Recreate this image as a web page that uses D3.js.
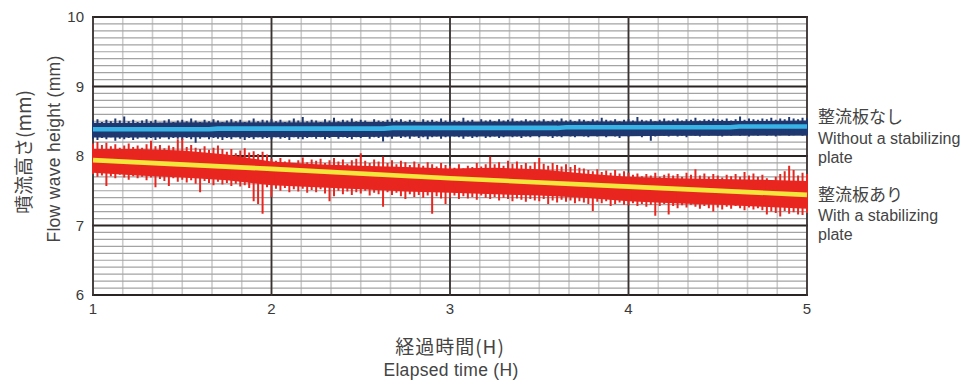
<!DOCTYPE html>
<html>
<head>
<meta charset="utf-8">
<script src="https://cdn.jsdelivr.net/npm/d3@7/dist/d3.min.js"></script>
<style>
  body { margin: 0; background: #fff; }
  svg { display: block; }
</style>
</head>
<body>
<svg id="chart" width="973" height="381"></svg>
<script>
// axis ticks
const hourTicks = [1, 2, 3, 4, 5];
const heightTicks = [6, 7, 8, 9, 10];

// noisy traces, sampled every 0.025 h starting at 1 h (max / min per sample)
const sampleStart = 1, sampleStep = 0.025;

const blueHi = [
  8.51, 8.53, 8.49, 8.52, 8.50, 8.54, 8.51, 8.57, 8.50, 8.52,
  8.49, 8.51, 8.53, 8.50, 8.52, 8.48, 8.51, 8.53, 8.49, 8.51,
  8.52, 8.50, 8.54, 8.51, 8.49, 8.52, 8.50, 8.53, 8.51, 8.49,
  8.51, 8.53, 8.50, 8.52, 8.49, 8.51, 8.54, 8.50, 8.52, 8.51,
  8.53, 8.50, 8.52, 8.49, 8.51, 8.54, 8.51, 8.56, 8.50, 8.52,
  8.51, 8.49, 8.53, 8.51, 8.55, 8.50, 8.52, 8.51, 8.54, 8.50,
  8.52, 8.51, 8.49, 8.53, 8.51, 8.50, 8.52, 8.54, 8.51, 8.53,
  8.50, 8.52, 8.51, 8.49, 8.53, 8.51, 8.52, 8.50, 8.54, 8.51,
  8.53, 8.51, 8.50, 8.55, 8.51, 8.52, 8.49, 8.53, 8.51, 8.52,
  8.50, 8.53, 8.51, 8.52, 8.54, 8.50, 8.51, 8.53, 8.51, 8.52,
  8.51, 8.53, 8.50, 8.52, 8.51, 8.54, 8.51, 8.52, 8.50, 8.53,
  8.52, 8.50, 8.53, 8.51, 8.55, 8.52, 8.51, 8.53, 8.50, 8.52,
  8.53, 8.51, 8.56, 8.52, 8.51, 8.53, 8.50, 8.52, 8.54, 8.51,
  8.52, 8.54, 8.51, 8.53, 8.52, 8.55, 8.51, 8.53, 8.52, 8.54,
  8.53, 8.52, 8.54, 8.51, 8.53, 8.57, 8.52, 8.54, 8.53, 8.52,
  8.54, 8.53, 8.55, 8.52, 8.54, 8.53, 8.56, 8.54, 8.53, 8.55,
  8.54
];
const blueLo = [
  8.25, 8.23, 8.26, 8.24, 8.27, 8.22, 8.25, 8.24, 8.26, 8.23,
  8.25, 8.27, 8.24, 8.26, 8.23, 8.25, 8.27, 8.24, 8.26, 8.25,
  8.23, 8.26, 8.24, 8.19, 8.25, 8.27, 8.24, 8.26, 8.25, 8.23,
  8.26, 8.24, 8.27, 8.25, 8.23, 8.26, 8.24, 8.27, 8.25, 8.26,
  8.24, 8.27, 8.25, 8.26, 8.23, 8.27, 8.25, 8.24, 8.26, 8.27,
  8.25, 8.27, 8.24, 8.26, 8.28, 8.25, 8.27, 8.26, 8.24, 8.27,
  8.26, 8.28, 8.25, 8.27, 8.26, 8.21, 8.27, 8.25, 8.28, 8.26,
  8.27, 8.25, 8.28, 8.26, 8.27, 8.24, 8.27, 8.28, 8.25, 8.27,
  8.26, 8.28, 8.27, 8.25, 8.28, 8.26, 8.27, 8.29, 8.26, 8.27,
  8.28, 8.26, 8.27, 8.29, 8.27, 8.28, 8.26, 8.28, 8.27, 8.29,
  8.27, 8.29, 8.28, 8.26, 8.28, 8.27, 8.29, 8.28, 8.27, 8.29,
  8.28, 8.27, 8.29, 8.28, 8.30, 8.27, 8.29, 8.28, 8.26, 8.29,
  8.28, 8.30, 8.29, 8.27, 8.29, 8.22, 8.28, 8.30, 8.29, 8.28,
  8.30, 8.28, 8.29, 8.27, 8.30, 8.29, 8.28, 8.30, 8.29, 8.31,
  8.29, 8.28, 8.30, 8.29, 8.31, 8.29, 8.30, 8.28, 8.30, 8.29,
  8.31, 8.29, 8.30, 8.28, 8.30, 8.31, 8.29, 8.30, 8.31, 8.29,
  8.30
];
const redHi = [
  8.18, 8.20, 8.16, 8.19, 8.14, 8.17, 8.12, 8.15, 8.18, 8.13,
  8.15, 8.12, 8.17, 8.22, 8.14, 8.16, 8.11, 8.15, 8.13, 8.24,
  8.25, 8.13, 8.16, 8.12, 8.10, 8.14, 8.09, 8.12, 8.15, 8.10,
  8.06, 8.10, 8.04, 8.08, 8.11, 8.05, 8.07, 8.03, 8.06, 8.02,
  7.96, 7.93, 7.97, 7.92, 7.95, 7.90, 7.94, 7.98, 7.91, 7.95,
  7.93, 7.96, 7.90, 7.94, 7.97, 7.92, 7.95, 7.89, 7.94, 7.96,
  8.04, 7.93, 7.90, 7.95, 7.92, 7.99, 7.90, 7.94, 7.88, 7.93,
  7.91, 7.87, 7.92, 7.89, 7.86, 7.91, 7.88, 7.85, 7.90, 7.87,
  7.86, 7.83, 7.88, 7.82, 7.86, 7.84, 7.90, 7.85, 7.88, 7.99,
  7.88, 7.91, 7.86, 7.93, 7.89, 7.92, 7.87, 7.90, 7.86, 7.91,
  7.97, 7.89, 7.86, 7.90, 7.87, 7.85, 7.88, 7.84, 7.87, 7.83,
  7.82, 7.80, 7.78, 7.81, 7.77, 7.79, 7.76, 7.80, 7.75, 7.78,
  7.76, 7.73, 7.75, 7.71, 7.74, 7.72, 7.76, 7.70, 7.73, 7.75,
  7.72, 7.74, 7.70, 7.76, 7.73, 7.81, 7.72, 7.75, 7.70, 7.74,
  7.72, 7.69, 7.73, 7.71, 7.74, 7.70, 7.77, 7.72, 7.75, 7.70,
  7.73, 7.68, 7.65, 7.70, 7.74, 7.78, 7.86, 7.80, 7.72, 7.76,
  7.74
];
const redLo = [
  7.74, 7.70, 7.72, 7.57, 7.71, 7.68, 7.73, 7.69, 7.66, 7.71,
  7.68, 7.70, 7.65, 7.69, 7.55, 7.67, 7.64, 7.57, 7.68, 7.63,
  7.66, 7.62, 7.65, 7.60, 7.48, 7.64, 7.61, 7.58, 7.63, 7.59,
  7.61, 7.57, 7.60, 7.56, 7.58, 7.54, 7.35, 7.31, 7.17, 7.55,
  7.41, 7.53, 7.50, 7.54, 7.48, 7.52, 7.49, 7.53, 7.47, 7.51,
  7.48, 7.52, 7.46, 7.35, 7.42, 7.50, 7.45, 7.49, 7.44, 7.48,
  7.46, 7.50, 7.43, 7.47, 7.45, 7.27, 7.48, 7.44, 7.47, 7.42,
  7.38, 7.45, 7.41, 7.44, 7.40, 7.43, 7.17, 7.42, 7.39, 7.31,
  7.40, 7.43, 7.38, 7.42, 7.39, 7.41, 7.37, 7.43, 7.40, 7.38,
  7.41, 7.36, 7.40, 7.38, 7.35, 7.39, 7.37, 7.34, 7.38, 7.36,
  7.35, 7.38, 7.31, 7.36, 7.33, 7.37, 7.34, 7.36, 7.32, 7.35,
  7.33, 7.31, 7.21, 7.34, 7.32, 7.35, 7.28, 7.31, 7.33, 7.30,
  7.29, 7.32, 7.28, 7.31, 7.27, 7.30, 7.14, 7.28, 7.31, 7.16,
  7.28, 7.25, 7.29, 7.26, 7.30, 7.27, 7.24, 7.28, 7.25, 7.20,
  7.26, 7.23, 7.27, 7.24, 7.28, 7.25, 7.22, 7.26, 7.23, 7.25,
  7.22, 7.16, 7.20, 7.18, 7.13, 7.21, 7.17, 7.19, 7.16, 7.15,
  7.18
];

// dense core of each trace, read every quarter hour
const coreHours = [1, 1.25, 1.5, 1.75, 2, 2.25, 2.5, 2.75, 3, 3.25, 3.5, 3.75, 4, 4.25, 4.5, 4.75, 5];
const blueCoreTop = [8.48, 8.48, 8.485, 8.485, 8.485, 8.485, 8.49, 8.49, 8.49, 8.495, 8.495, 8.495, 8.495, 8.5, 8.505, 8.505, 8.51];
const blueCoreBottom = [8.265, 8.265, 8.27, 8.27, 8.27, 8.275, 8.275, 8.28, 8.28, 8.28, 8.285, 8.285, 8.285, 8.29, 8.29, 8.295, 8.295];
const redCoreTop = [8.10, 8.10, 8.08, 8.02, 7.92, 7.88, 7.86, 7.84, 7.82, 7.83, 7.81, 7.75, 7.70, 7.68, 7.67, 7.66, 7.64];
const redCoreBottom = [7.76, 7.72, 7.69, 7.65, 7.58, 7.55, 7.52, 7.49, 7.47, 7.45, 7.43, 7.40, 7.35, 7.32, 7.30, 7.27, 7.24];

// averaged lines
const blueAvgHours = [1, 1.65, 1.7, 2.63, 2.68, 3.6, 3.65, 4.57, 4.62, 5];
const blueAvg = [8.384, 8.384, 8.394, 8.394, 8.404, 8.404, 8.414, 8.414, 8.425, 8.425];
const redAvgHours = [1, 2, 3, 4, 5];
const redAvg = [7.94, 7.815, 7.68, 7.56, 7.44];

const svg = d3.select("#chart");
const plotLeft = 93, plotRight = 807, plotTop = 17, plotBottom = 295;

const x = d3.scaleLinear().domain([1, 5]).range([plotLeft, plotRight]);
const y = d3.scaleLinear().domain([6, 10]).range([plotBottom, plotTop]);

const textColor = "#3a3a3a";
const latin = "'Liberation Sans', Arial, Helvetica, sans-serif";
const cjk = "'Noto Sans CJK JP', 'Noto Sans', sans-serif";

// grid
const grid = svg.append("g");
grid.selectAll("line.vmin")
  .data(d3.range(1, 5.0001, 1 / 6))
  .enter().append("line")
  .attr("x1", d => x(d)).attr("x2", d => x(d))
  .attr("y1", plotTop).attr("y2", plotBottom)
  .attr("stroke", "#cccccc").attr("stroke-width", 1.6);
grid.selectAll("line.hmin")
  .data(d3.range(6, 10.0001, 0.1))
  .enter().append("line")
  .attr("x1", plotLeft).attr("x2", plotRight)
  .attr("y1", d => y(d)).attr("y2", d => y(d))
  .attr("stroke", "#a3a3a3").attr("stroke-width", 1.2);
grid.selectAll("line.hmaj")
  .data(heightTicks)
  .enter().append("line")
  .attr("x1", plotLeft - 1).attr("x2", plotRight + 1)
  .attr("y1", d => y(d)).attr("y2", d => y(d))
  .attr("stroke", "#2b2424").attr("stroke-width", 1.8);
grid.selectAll("line.vmaj")
  .data(hourTicks)
  .enter().append("line")
  .attr("x1", d => x(d)).attr("x2", d => x(d))
  .attr("y1", plotTop - 1).attr("y2", plotBottom + 1)
  .attr("stroke", "#3a3232").attr("stroke-width", 1.8);

// traces: one vertical stroke per sample from min to max
function spikes(hi, lo) {
  const p = d3.path();
  hi.forEach((v, i) => {
    const px = x(sampleStart + i * sampleStep);
    p.moveTo(px, y(v));
    p.lineTo(px, y(lo[i]));
  });
  return p.toString();
}
const coreArea = d3.area()
  .x((d, i) => x(coreHours[i]))
  .y0(d => y(d[1]))
  .y1(d => y(d[0]));
const avgLine = d3.line().x(d => x(d[0])).y(d => y(d[1]));

function drawTrace(hi, lo, coreTop, coreBottom, avgHours, avg, color, avgColor) {
  const g = svg.append("g");
  g.append("path")
    .datum(coreTop.map((v, i) => [v, coreBottom[i]]))
    .attr("d", coreArea)
    .attr("fill", color);
  g.append("path")
    .attr("d", spikes(hi, lo))
    .attr("fill", "none")
    .attr("stroke", color)
    .attr("stroke-width", 2);
  g.append("path")
    .datum(avgHours.map((h, i) => [h, avg[i]]))
    .attr("d", avgLine)
    .attr("fill", "none")
    .attr("stroke", avgColor)
    .attr("stroke-width", 4.6);
}
drawTrace(blueHi, blueLo, blueCoreTop, blueCoreBottom, blueAvgHours, blueAvg, "#1f3870", "#37b3e5");
drawTrace(redHi, redLo, redCoreTop, redCoreBottom, redAvgHours, redAvg, "#e8261f", "#f4e63a");

// tick labels
svg.append("g").selectAll("text")
  .data(heightTicks)
  .enter().append("text")
  .attr("x", 84).attr("y", d => y(d))
  .attr("dy", "0.36em")
  .attr("text-anchor", "end")
  .attr("font-family", latin).attr("font-size", 15)
  .attr("fill", textColor)
  .text(d => d);
svg.append("g").selectAll("text")
  .data(hourTicks)
  .enter().append("text")
  .attr("x", d => x(d)).attr("y", 314)
  .attr("text-anchor", "middle")
  .attr("font-family", latin).attr("font-size", 15)
  .attr("fill", textColor)
  .text(d => d);

// axis titles
svg.append("text")
  .attr("transform", "translate(31,152) rotate(-90)")
  .attr("text-anchor", "middle")
  .attr("font-family", cjk).attr("font-size", 19)
  .attr("fill", "#444")
  .text("噴流高さ(mm)");
svg.append("text")
  .attr("transform", "translate(60,149) rotate(-90)")
  .attr("text-anchor", "middle")
  .attr("font-family", latin).attr("font-size", 17.5)
  .attr("letter-spacing", 0.3)
  .attr("fill", "#444")
  .text("Flow wave height (mm)");
svg.append("text")
  .attr("x", 450).attr("y", 354)
  .attr("text-anchor", "middle")
  .attr("font-family", cjk).attr("font-size", 19)
  .attr("letter-spacing", 1)
  .attr("fill", "#444")
  .text("経過時間(H)");
svg.append("text")
  .attr("x", 451).attr("y", 376)
  .attr("text-anchor", "middle")
  .attr("font-family", latin).attr("font-size", 17.5)
  .attr("letter-spacing", 0.3)
  .attr("fill", "#444")
  .text("Elapsed time (H)");

// series labels
const legendRows = [
  { text: "整流板なし", y: 123, cjk: true },
  { text: "Without a stabilizing", y: 144, cjk: false },
  { text: "plate", y: 163, cjk: false },
  { text: "整流板あり", y: 201, cjk: true },
  { text: "With a stabilizing", y: 221, cjk: false },
  { text: "plate", y: 240, cjk: false }
];
svg.append("g").selectAll("text")
  .data(legendRows)
  .enter().append("text")
  .attr("x", 818).attr("y", d => d.y)
  .attr("font-family", d => d.cjk ? cjk : latin)
  .attr("font-size", d => d.cjk ? 17 : 16)
  .attr("fill", "#444")
  .text(d => d.text);
</script>
</body>
</html>
